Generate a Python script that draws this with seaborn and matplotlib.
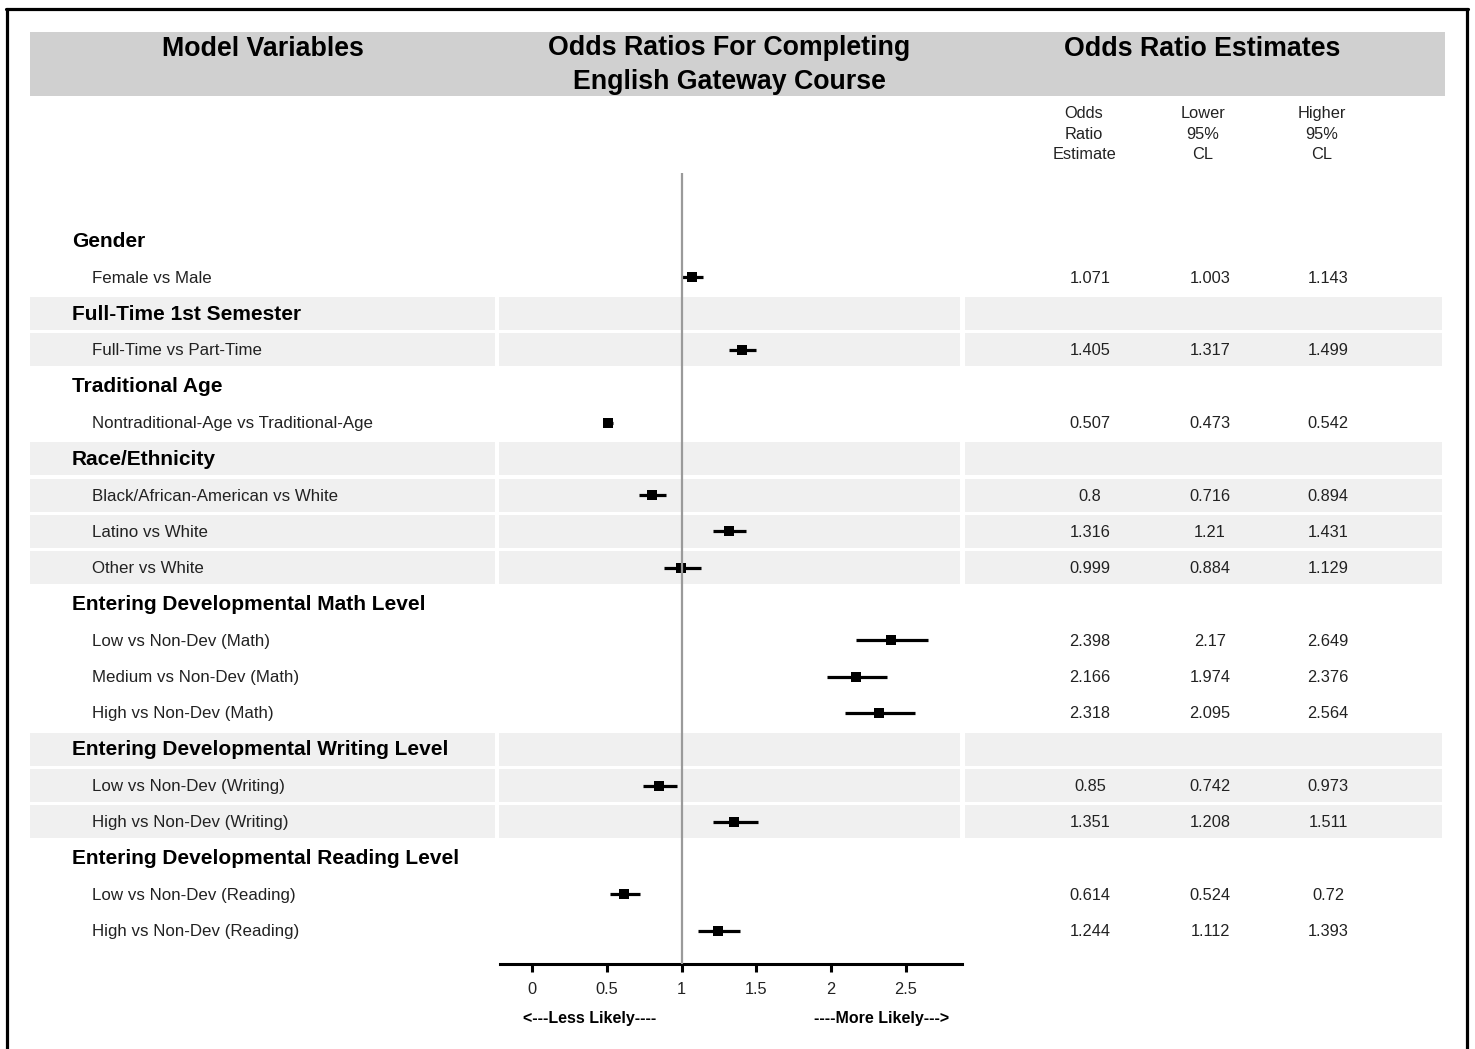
import matplotlib
matplotlib.use("Agg")
import matplotlib.pyplot as plt
import matplotlib.transforms as mtransforms
from matplotlib.patches import Rectangle
from matplotlib.lines import Line2D
import seaborn as sns
import pandas as pd

# ---------------- data ----------------
groups = ["Gender", "Full-Time 1st Semester", "Traditional Age", "Race/Ethnicity",
          "Entering Developmental Math Level", "Entering Developmental Writing Level",
          "Entering Developmental Reading Level"]
group_items = [
    ["Female vs Male"],
    ["Full-Time vs Part-Time"],
    ["Nontraditional-Age vs Traditional-Age"],
    ["Black/African-American vs White", "Latino vs White", "Other vs White"],
    ["Low vs Non-Dev (Math)", "Medium vs Non-Dev (Math)", "High vs Non-Dev (Math)"],
    ["Low vs Non-Dev (Writing)", "High vs Non-Dev (Writing)"],
    ["Low vs Non-Dev (Reading)", "High vs Non-Dev (Reading)"],
]
estimate = [1.071, 1.405, 0.507, 0.8, 1.316, 0.999, 2.398, 2.166, 2.318, 0.85, 1.351, 0.614, 1.244]
lower_cl = [1.003, 1.317, 0.473, 0.716, 1.21, 0.884, 2.17, 1.974, 2.095, 0.742, 1.208, 0.524, 1.112]
upper_cl = [1.143, 1.499, 0.542, 0.894, 1.431, 1.129, 2.649, 2.376, 2.564, 0.973, 1.511, 0.72, 1.393]
shaded_groups = [1, 3, 5]
x_ticks = [0, 0.5, 1, 1.5, 2, 2.5]
x_tick_labels = ["0", "0.5", "1", "1.5", "2", "2.5"]
col_titles = ["Model Variables", "Odds Ratios For Completing\nEnglish Gateway Course", "Odds Ratio Estimates"]
sub_headers = ["Odds\nRatio\nEstimate", "Lower\n95%\nCL", "Higher\n95%\nCL"]

# ---------------- layout helpers ----------------
W, H = 1475, 1049
def fx(px): return px / W
def fy(py): return 1 - py / H

ROW0, STEP = 241.0, 36.3

# build row table
rows = []
k = 0
r = 0
for gi, (g, items) in enumerate(zip(groups, group_items)):
    rows.append(dict(row=r, label=g, kind="group", group=gi))
    r += 1
    for it in items:
        rows.append(dict(row=r, label=it, kind="item", group=gi,
                         est=estimate[k], lo=lower_cl[k], hi=upper_cl[k]))
        r += 1
        k += 1
df = pd.DataFrame(rows)
items_df = df[df.kind == "item"]

sns.set_theme(style="white")
plt.rcParams['font.family'] = ['Liberation Sans', 'DejaVu Sans']

fig = plt.figure(figsize=(W / 100, H / 100), dpi=100)
fig.patch.set_facecolor("white")

ax_left, ax_right = 500, 962
ax_top, ax_bot = 173, 964
ax = fig.add_axes([fx(ax_left), fy(ax_bot), fx(ax_right - ax_left), (ax_bot - ax_top) / H])
ax.patch.set_alpha(0)

x0_px, x1_px = 532.0, 681.5
ppu = x1_px - x0_px
ax.set_xlim((ax_left - x0_px) / ppu, (ax_right - x0_px) / ppu)
ax.set_ylim((ax_bot - ROW0) / STEP, (ax_top - ROW0) / STEP)

blend = mtransforms.blended_transform_factory(fig.transFigure, ax.transData)

# frame around the figure (left, top, right)
frame_kw = dict(color="black", lw=2.3, transform=fig.transFigure)
fig.add_artist(Line2D([fx(7), fx(7)], [0, fy(9)], **frame_kw))
fig.add_artist(Line2D([fx(6), fx(1468)], [fy(9), fy(9)], **frame_kw))
fig.add_artist(Line2D([fx(1467), fx(1467)], [0, fy(9)], **frame_kw))

# header band
fig.add_artist(Rectangle((fx(30), fy(96)), fx(1445 - 30), (96 - 32) / H,
                         transform=fig.transFigure, color="#d0d0d0", lw=0, zorder=0))
fig.text(fx(263), fy(49), col_titles[0], ha="center", va="center",
         fontsize=19.3, fontweight="bold", color="black")
fig.text(fx(729), fy(65), col_titles[1], ha="center", va="center",
         fontsize=19.3, fontweight="bold", color="black", linespacing=1.38)
fig.text(fx(1202), fy(49), col_titles[2], ha="center", va="center",
         fontsize=19.3, fontweight="bold", color="black")

# sub headers
for cx, t in zip([1084, 1203, 1322], sub_headers):
    fig.text(fx(cx), fy(134), t, ha="center", va="center", fontsize=11.8,
             color="#222222", linespacing=1.42)

# row bands
half = 16.5 / STEP
segments = [(30, 495), (499, 960), (965, 1442)]
for _, rw in df[df.group.isin(shaded_groups)].iterrows():
    for a, b in segments:
        ax.add_patch(Rectangle((fx(a), rw.row - half), fx(b - a), 2 * half,
                               transform=blend, color="#f0f0f0", lw=0,
                               clip_on=False, zorder=0))

# labels
for _, rw in df.iterrows():
    if rw.kind == "group":
        ax.text(fx(72), rw.row + 0.02, rw.label, transform=blend, ha="left", va="center",
                fontsize=15.0, fontweight="bold", color="black", clip_on=False)
    else:
        ax.text(fx(92), rw.row + 0.03, rw.label, transform=blend, ha="left", va="center",
                fontsize=12.2, color="#222222", clip_on=False)

# numbers
for _, rw in items_df.iterrows():
    for cx, v in zip([1090, 1210, 1328], [rw.est, rw.lo, rw.hi]):
        ax.text(fx(cx), rw.row + 0.03, f"{v:g}", transform=blend, ha="center", va="center",
                fontsize=11.8, color="#222222", clip_on=False)

# forest marks
ax.hlines(items_df.row, items_df.lo, items_df.hi, color="black", lw=2.3, zorder=2)
sns.scatterplot(data=items_df, x="est", y="row", marker="s", s=62, color="black",
                linewidth=0, zorder=3, ax=ax, legend=False)
ax.axvline(1, color="#9a9a9a", lw=1.6, zorder=4)

# axes styling
for side in ["top", "left", "right"]:
    ax.spines[side].set_visible(False)
ax.spines["bottom"].set_color("black")
ax.spines["bottom"].set_linewidth(2.2)
ax.set_yticks([])
ax.set_xticks(x_ticks)
ax.set_xticklabels(x_tick_labels)
ax.tick_params(axis="x", direction="out", length=6, width=2.2, color="black",
               labelsize=11.8, labelcolor="#222222", pad=7, bottom=True)
ax.set_xlabel("")
ax.set_ylabel("")

fig.text(fx(590), fy(1018), "<---Less Likely----", ha="center", va="center",
         fontsize=11.5, fontweight="bold", color="black")
fig.text(fx(882), fy(1018), "----More Likely--->", ha="center", va="center",
         fontsize=11.5, fontweight="bold", color="black")

fig.savefig("out.png", dpi=100)
